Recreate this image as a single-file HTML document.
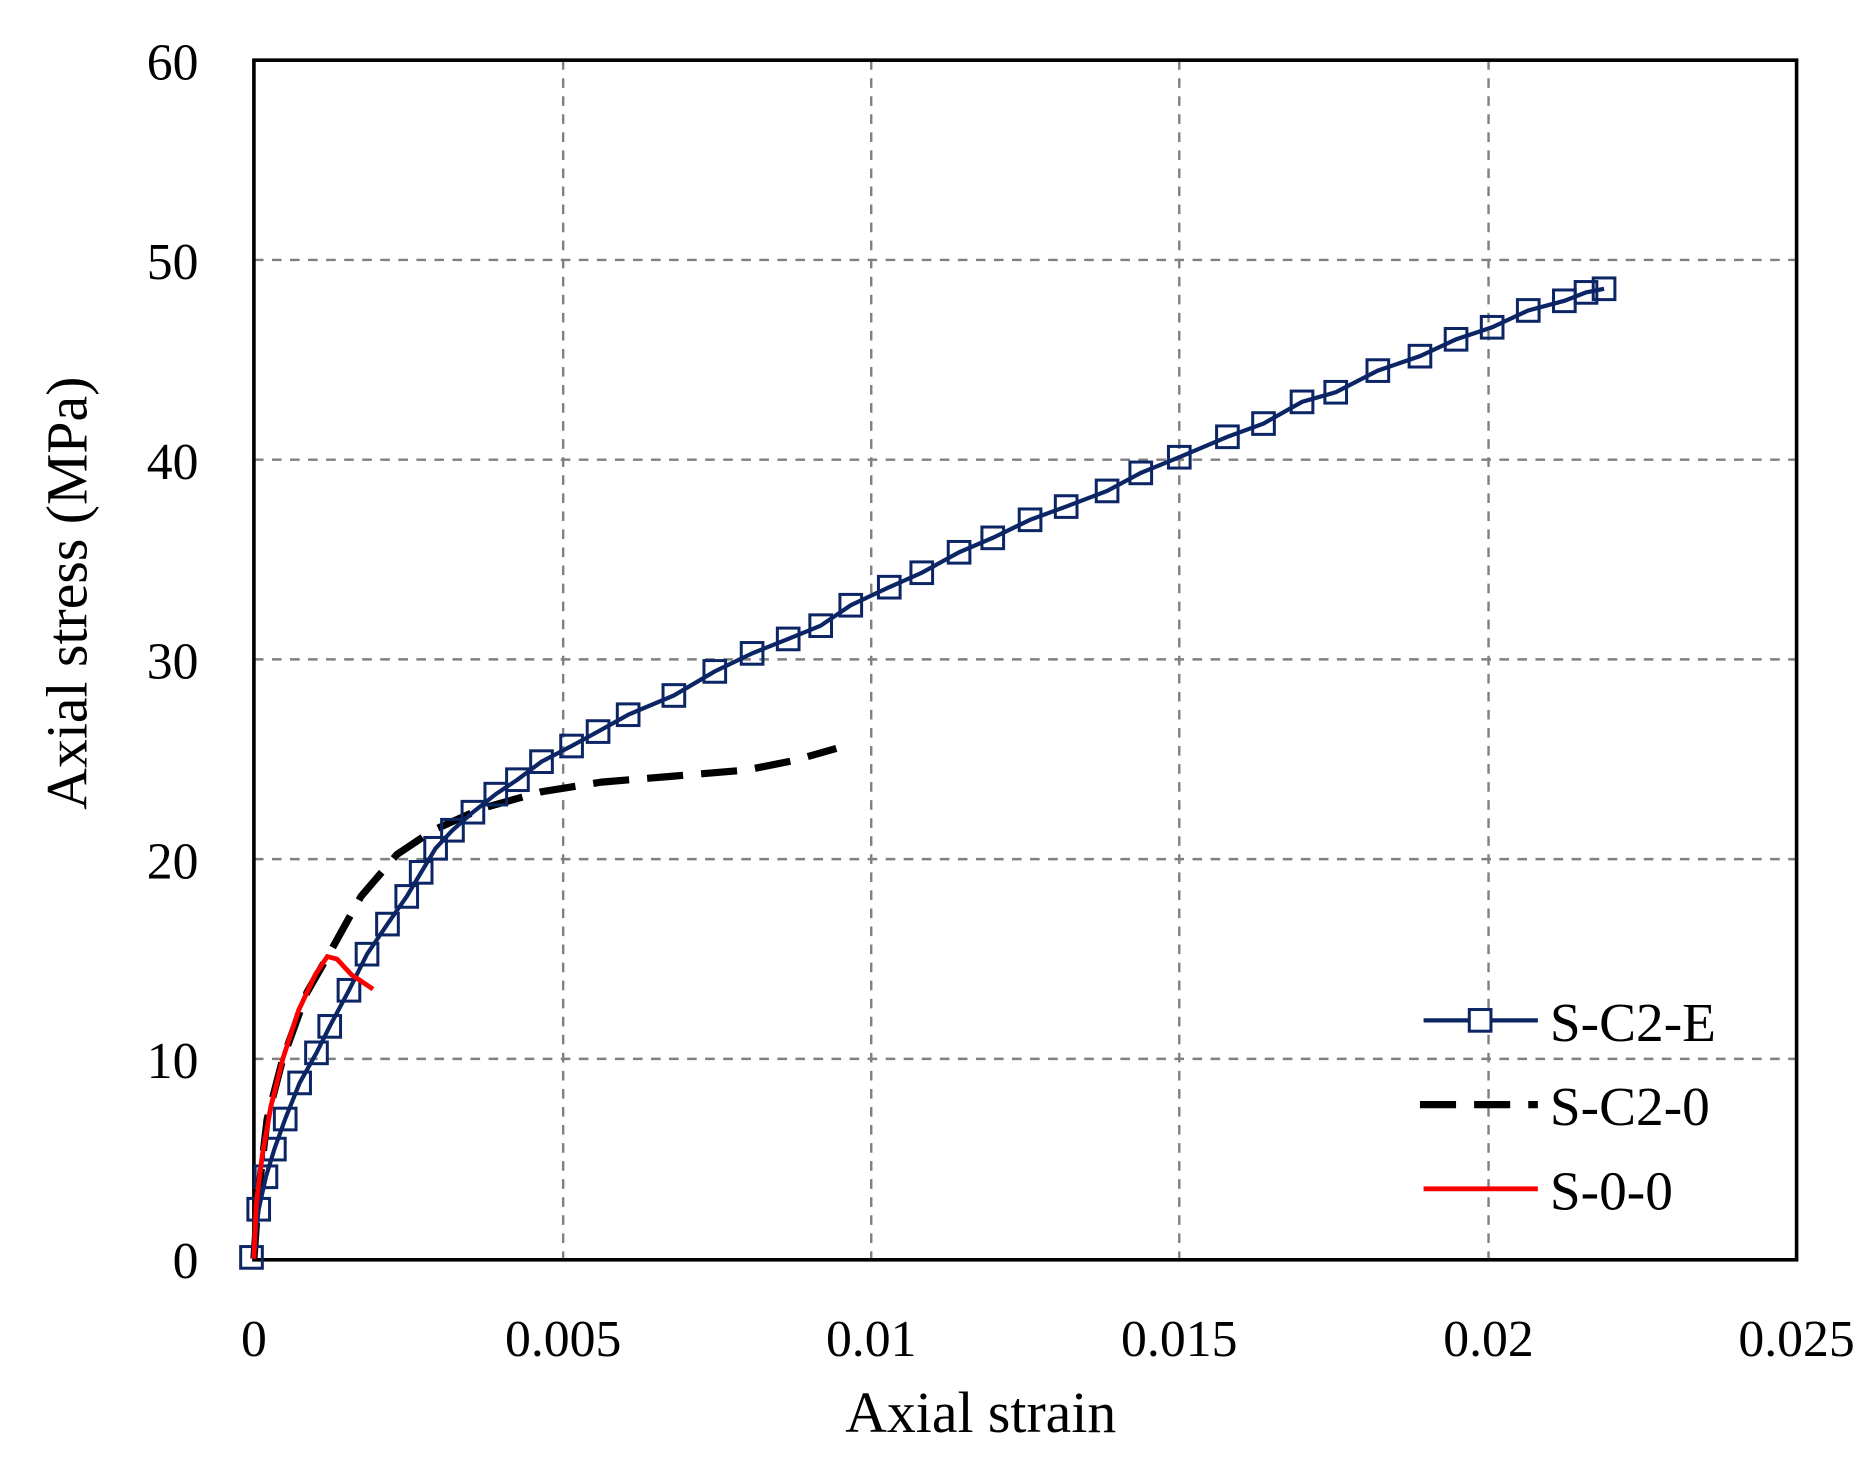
<!DOCTYPE html>
<html><head><style>html,body{margin:0;padding:0;background:#fff}svg{display:block}</style></head>
<body>
<svg width="1870" height="1480" viewBox="0 0 1554 1230" preserveAspectRatio="none" xmlns="http://www.w3.org/2000/svg" font-family="Liberation Serif, serif">
<rect width="1554" height="1230" fill="#fff"/>
<g stroke="#808080" stroke-width="2" stroke-dasharray="8,7">
<line x1="468" y1="50" x2="468" y2="1047"/><line x1="724" y1="50" x2="724" y2="1047"/><line x1="980" y1="50" x2="980" y2="1047"/><line x1="1237" y1="50" x2="1237" y2="1047"/>
<line x1="211" y1="216" x2="1493" y2="216"/><line x1="211" y1="382" x2="1493" y2="382"/><line x1="211" y1="548" x2="1493" y2="548"/><line x1="211" y1="714" x2="1493" y2="714"/><line x1="211" y1="880" x2="1493" y2="880"/>
</g>
<rect x="211" y="50" width="1282" height="997" fill="none" stroke="#000" stroke-width="3"/>
<g font-size="43" text-anchor="end" fill="#000">
<text x="165" y="1062">0</text><text x="165" y="896">10</text><text x="165" y="730">20</text><text x="165" y="564">30</text><text x="165" y="398">40</text><text x="165" y="232">50</text><text x="165" y="66">60</text>
</g>
<g font-size="43" text-anchor="middle">
<text x="211" y="1127">0</text><text x="468" y="1127">0.005</text><text x="724" y="1127">0.01</text><text x="980" y="1127">0.015</text><text x="1237" y="1127">0.02</text><text x="1493" y="1127">0.025</text>
</g>
<text x="815" y="1190" font-size="48" text-anchor="middle">Axial  strain</text>
<text transform="translate(72,493) rotate(-90)" font-size="48" text-anchor="middle">Axial  stress (MPa)</text>
<polyline fill="none" stroke="#000" stroke-width="6" stroke-dasharray="30,15" points="211,1046 215,990 222,930 235,880 255,825 275,790 300,745 330,710 360,690 400,672 450,658 500,650 560,645 620,640 660,632 695,622"/>
<g fill="none" stroke="#0b2565" stroke-width="3.5">
<polyline points="210,1046 215,1005 221,978 228,955 237,930 249,900 263,875 274,853 290,823 305,793 322,768 338,745 350,725 362,705 376,690 393,675 412,660 430,648 450,633 475,620 497,608 522,594 560,578 594,558 625,543 655,531 682,520 707,503 739,488 766,476 797,459 825,447 856,432 886,421 920,408 948,393 980,380 1020,363 1050,352 1082,334 1110,326 1145,308 1180,296 1210,282 1240,272 1270,258 1300,250 1318,243 1333,240"/>
</g>
<g fill="none" stroke="#0b2565" stroke-width="2.5">
<rect x="200" y="1036" width="18" height="18"/><rect x="206" y="996" width="18" height="18"/><rect x="212" y="969" width="18" height="18"/><rect x="219" y="946" width="18" height="18"/><rect x="228" y="921" width="18" height="18"/><rect x="240" y="891" width="18" height="18"/><rect x="254" y="866" width="18" height="18"/><rect x="265" y="844" width="18" height="18"/><rect x="281" y="814" width="18" height="18"/><rect x="296" y="784" width="18" height="18"/><rect x="313" y="759" width="18" height="18"/><rect x="329" y="736" width="18" height="18"/><rect x="341" y="716" width="18" height="18"/><rect x="353" y="696" width="18" height="18"/><rect x="367" y="681" width="18" height="18"/><rect x="384" y="666" width="18" height="18"/><rect x="403" y="651" width="18" height="18"/><rect x="421" y="639" width="18" height="18"/><rect x="441" y="624" width="18" height="18"/><rect x="466" y="611" width="18" height="18"/><rect x="488" y="599" width="18" height="18"/><rect x="513" y="585" width="18" height="18"/><rect x="551" y="569" width="18" height="18"/><rect x="585" y="549" width="18" height="18"/><rect x="616" y="534" width="18" height="18"/><rect x="646" y="522" width="18" height="18"/><rect x="673" y="511" width="18" height="18"/><rect x="698" y="494" width="18" height="18"/><rect x="730" y="479" width="18" height="18"/><rect x="757" y="467" width="18" height="18"/><rect x="788" y="450" width="18" height="18"/><rect x="816" y="438" width="18" height="18"/><rect x="847" y="423" width="18" height="18"/><rect x="877" y="412" width="18" height="18"/><rect x="911" y="399" width="18" height="18"/><rect x="939" y="384" width="18" height="18"/><rect x="971" y="371" width="18" height="18"/><rect x="1011" y="354" width="18" height="18"/><rect x="1041" y="343" width="18" height="18"/><rect x="1073" y="325" width="18" height="18"/><rect x="1101" y="317" width="18" height="18"/><rect x="1136" y="299" width="18" height="18"/><rect x="1171" y="287" width="18" height="18"/><rect x="1201" y="273" width="18" height="18"/><rect x="1231" y="263" width="18" height="18"/><rect x="1261" y="249" width="18" height="18"/><rect x="1291" y="241" width="18" height="18"/><rect x="1309" y="234" width="18" height="18"/><rect x="1324" y="231" width="18" height="18"/>
</g>
<polyline fill="none" stroke="#f00" stroke-width="4" points="211,1046 213,1000 218,960 225,920 235,880 248,840 262,810 272,795 280,797 292,810 310,822"/>
<line x1="1183" y1="848" x2="1278" y2="848" stroke="#0b2565" stroke-width="3.5"/>
<rect x="1221" y="839" width="18" height="18" fill="#fff" stroke="#0b2565" stroke-width="2.5"/>
<line x1="1180" y1="918" x2="1278" y2="918" stroke="#000" stroke-width="6" stroke-dasharray="30,15"/>
<line x1="1183" y1="988" x2="1278" y2="988" stroke="#f00" stroke-width="4"/>
<g font-size="46"><text x="1288" y="865">S-C2-E</text><text x="1288" y="935">S-C2-0</text><text x="1288" y="1005">S-0-0</text></g>
</svg>
</body></html>
